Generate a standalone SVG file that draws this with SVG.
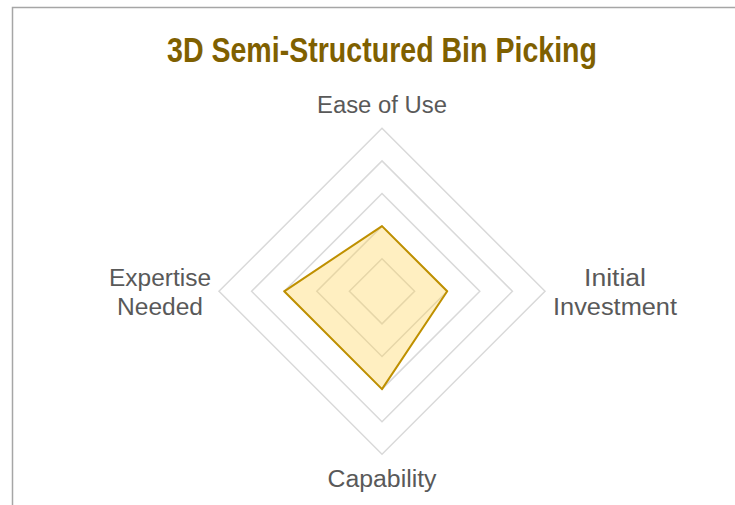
<svg xmlns="http://www.w3.org/2000/svg" width="735" height="505" viewBox="0 0 735 505">
<style>
.ring{fill:none;stroke:#d9d9d9;stroke-width:1.5}
.lbl{font-family:"Liberation Sans",Arial,sans-serif;font-size:23px;fill:#595959;text-anchor:middle}
.title{font-family:"Liberation Sans",Arial,sans-serif;font-size:35px;font-weight:bold;fill:#7f6000;text-anchor:middle}
</style>
<rect x="0" y="0" width="735" height="505" fill="#ffffff"/>
<path d="M12.5,505 V7.5 H735" fill="none" stroke="#a6a6a6" stroke-width="1.5"/>
<text class="title" x="382" y="62" textLength="430" lengthAdjust="spacingAndGlyphs">3D Semi-Structured Bin Picking</text>
<g id="grid">
<polygon class="ring" points="382,258.7 414.6,291.3 382,323.9 349.4,291.3"/>
<polygon class="ring" points="382,226.1 447.2,291.3 382,356.5 316.8,291.3"/>
<polygon class="ring" points="382,193.5 479.8,291.3 382,389.1 284.2,291.3"/>
<polygon class="ring" points="382,160.9 512.4,291.3 382,421.7 251.6,291.3"/>
<polygon class="ring" points="382,128.3 545,291.3 382,454.3 219,291.3"/>
</g>
<g id="connectors">
<polygon id="series" points="382,226.1 447.2,291.3 382,389.1 284.2,291.3" fill="#ffd24d" fill-opacity="0.35" stroke="#bf9000" stroke-width="2" stroke-linejoin="round"/>
</g>
<g id="ease-of-use"><text class="lbl" x="382" y="113" textLength="130" lengthAdjust="spacingAndGlyphs">Ease of Use</text></g>
<g id="initial-investment"><text class="lbl" x="615" y="286" textLength="62" lengthAdjust="spacingAndGlyphs">Initial</text><text class="lbl" x="615" y="315" textLength="124" lengthAdjust="spacingAndGlyphs">Investment</text></g>
<g id="capability"><text class="lbl" x="382" y="487" textLength="109" lengthAdjust="spacingAndGlyphs">Capability</text></g>
<g id="expertise-needed"><text class="lbl" x="160" y="286" textLength="102" lengthAdjust="spacingAndGlyphs">Expertise</text><text class="lbl" x="160" y="315" textLength="86" lengthAdjust="spacingAndGlyphs">Needed</text></g>
</svg>
